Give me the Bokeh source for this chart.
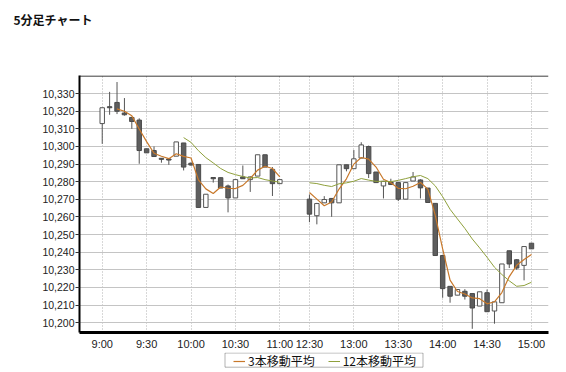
from bokeh.plotting import figure
from bokeh.layouts import column
from bokeh.models import (FixedTicker, NumeralTickFormatter, Span, BoxAnnotation, Title,
                          Legend, LegendItem, ColumnDataSource)
from bokeh.embed import file_html
from bokeh.resources import INLINE
import numpy as np
import pandas as pd

title_text = "5分足チャート"
legend_labels = ["3本移動平均", "12本移動平均"]

times = ["9:00", "9:05", "9:10", "9:15", "9:20", "9:25", "9:30", "9:35", "9:40", "9:45",
         "9:50", "9:55", "10:00", "10:05", "10:10", "10:15", "10:20", "10:25", "10:30", "10:35",
         "10:40", "10:45", "10:50", "10:55", "11:00",
         "12:30", "12:35", "12:40", "12:45", "12:50", "12:55", "13:00", "13:05", "13:10", "13:15",
         "13:20", "13:25", "13:30", "13:35", "13:40", "13:45", "13:50", "13:55", "14:00", "14:05",
         "14:10", "14:15", "14:20", "14:25", "14:30", "14:35", "14:40", "14:45", "14:50", "14:55",
         "15:00"]

open_ = [10313, 10322.6, 10325, 10319, 10316.5, 10315, 10298.7, 10297.7, 10293.3, 10292.9,
         10294.5, 10302, 10290.5, 10289.8, 10265.4, 10282.4, 10282.3, 10277.6, 10270.8, 10282.7,
         10281.2, 10283.2, 10295.3, 10287, 10278.9,
         10270.1, 10260.7, 10268, 10270.5, 10268, 10289.6, 10287.4, 10293.4, 10300, 10285.5,
         10277.6, 10279.8, 10279.5, 10270.1, 10280.4, 10281, 10276.4, 10267.7, 10238.1, 10220.6,
         10215.6, 10217.8, 10216.5, 10209.4, 10217, 10206.6, 10211.3, 10240.8, 10235.7, 10232.5,
         10245.1]
high = [10322, 10331, 10336.6, 10327.5, 10316.5, 10316, 10298.7, 10300, 10293.3, 10292.9,
        10302.6, 10302, 10291, 10289.8, 10272.9, 10282.4, 10282.3, 10278.4, 10281.5, 10289.2,
        10283, 10295.3, 10295.3, 10288.3, 10281.2,
        10272.7, 10268, 10271.8, 10270.5, 10289.6, 10289.6, 10298, 10302.4, 10300.5, 10285.5,
        10280.5, 10281.7, 10279.5, 10279.5, 10285.5, 10281.4, 10276.4, 10267.7, 10238.1, 10220.6,
        10218.8, 10219, 10216.5, 10217.5, 10218.8, 10211.8, 10233.3, 10240.8, 10236, 10243.2,
        10245.1]
low = [10301.5, 10318, 10318.4, 10317.5, 10310, 10290.2, 10296.4, 10294.3, 10290.8, 10289.6,
       10294.5, 10286.4, 10289, 10265.4, 10265.4, 10279.5, 10276.4, 10262.6, 10270.8, 10281.7,
       10274.2, 10283.2, 10288.3, 10271.9, 10278.9,
       10257, 10255.8, 10268, 10260.1, 10268, 10285.9, 10287.4, 10293.4, 10282.1, 10279.5,
       10270.5, 10278.4, 10269, 10270.1, 10280.4, 10270.5, 10268.2, 10238.1, 10214.1, 10211.3,
       10215.6, 10213.1, 10196.5, 10209.4, 10206.2, 10199.4, 10211.3, 10231, 10230, 10224,
       10241.9]
close = [10322, 10322, 10320, 10318, 10314.2, 10297.7, 10296.4, 10294.3, 10292.7, 10292.3,
         10302.6, 10288.3, 10289.5, 10265.4, 10272.9, 10281.7, 10276.4, 10270.8, 10281.2, 10281.7,
         10282.7, 10295.3, 10288.3, 10278.9, 10281.2,
         10261.6, 10267.6, 10269.9, 10268, 10289.6, 10287.4, 10293, 10300.9, 10284.6, 10279.5,
         10280.2, 10278.4, 10270.1, 10279.5, 10282.7, 10276.5, 10268.2, 10238.1, 10219.3, 10215,
         10218.8, 10215, 10208.3, 10217.5, 10206.2, 10211.8, 10233.3, 10233.3, 10231, 10243.2,
         10241.9]

tick_labels = ["9:00", "9:30", "10:00", "10:30", "11:00", "12:30", "13:00", "13:30", "14:00", "14:30", "15:00"]
y_ticks = list(range(10200, 10331, 10))

MA3_COLOR = "#C8782A"
MA12_COLOR = "#8FA03C"


def slot(t):
    h, m = map(int, t.split(":"))
    mins = h * 60 + m
    if mins <= 660:
        return (mins - 540) / 5
    return 28 + (mins - 750) / 5


xs = [slot(t) for t in times]
up = [c >= o for o, c in zip(open_, close)]
top = [max(o, c) for o, c in zip(open_, close)]
bot = [min(o, c) for o, c in zip(open_, close)]

df = pd.DataFrame(dict(x=xs, o=open_, h=high, l=low, c=close, top=top, bot=bot, up=up))
ma3 = df["c"].rolling(3).mean()
ma12 = df["c"].rolling(12).mean()

# break the lines across the lunch gap
n_am = sum(1 for t in times if slot(t) <= 24)
lx = xs[:n_am] + [np.nan] + xs[n_am:]
l3 = list(ma3[:n_am]) + [np.nan] + list(ma3[n_am:])
l12 = list(ma12[:n_am]) + [np.nan] + list(ma12[n_am:])

BL, BR = 79, 18
p = figure(width=566, height=352, x_range=(-3.07, 60.3), y_range=(10194.4, 10340.3),
           output_backend="svg", toolbar_location=None,
           min_border_left=BL, min_border_right=BR, min_border_top=75, min_border_bottom=19,
           background_fill_color="white", border_fill_color="white")
p.outline_line_color = None
p.title.text = ""

# title (a spacer title keeps it near the top edge)
p.add_layout(Title(text=" ", text_font_size="1px", standoff=33), "above")
p.add_layout(Title(text=title_text, align="left", offset=-66, standoff=20, vertical_align="top",
                   text_font="Noto Sans CJK JP", text_font_size="12px", text_font_style="bold",
                   text_color="#111111"), "above")

# grids
p.ygrid.ticker = FixedTicker(ticks=y_ticks)
p.ygrid.grid_line_color = "#c4c4c4"
p.ygrid.grid_line_width = 1
tick_pos = [0, 6, 12, 18, 24, 28, 34, 40, 46, 52, 58]
p.xgrid.ticker = FixedTicker(ticks=tick_pos)
p.xgrid.grid_line_color = "#b0b0b0"
p.xgrid.grid_line_dash = "1 2"

# axes
ya = p.yaxis[0]
ya.ticker = FixedTicker(ticks=y_ticks)
ya.formatter = NumeralTickFormatter(format="0,0")
ya.axis_line_color = "black"
ya.axis_line_width = 2
ya.major_tick_out = 4
ya.major_tick_in = 0
ya.major_tick_line_color = "#333333"
ya.minor_tick_line_color = None
ya.major_label_standoff = 1
ya.major_label_text_font = "Liberation Sans"
ya.major_label_text_font_size = "10.5px"
ya.major_label_text_color = "#222222"

xa = p.xaxis[0]
xa.ticker = FixedTicker(ticks=tick_pos)
xa.major_label_overrides = {k: v for k, v in zip(tick_pos, tick_labels)}
xa.axis_line_color = "black"
xa.axis_line_width = 3
xa.major_tick_out = 0
xa.major_tick_in = 0
xa.major_tick_line_color = None
xa.minor_tick_out = 0
xa.minor_tick_line_color = None
xa.major_label_standoff = 5
xa.major_label_text_font = "Liberation Sans"
xa.major_label_text_font_size = "11px"
xa.major_label_text_color = "#222222"

# top border of the frame
p.add_layout(Span(location=10340.0, dimension="width", line_color="black", line_width=1))

# candles
p.segment(x0="x", y0="l", x1="x", y1="h", source=ColumnDataSource(df), line_color="#555555", line_width=1)
dn = df[~df["up"]]
uu = df[df["up"]]
p.vbar(x="x", top="top", bottom="bot", width=0.6, source=ColumnDataSource(dn),
       fill_color="#5e5e5e", line_color="#4a4a4a", line_width=1)
p.vbar(x="x", top="top", bottom="bot", width=0.6, source=ColumnDataSource(uu),
       fill_color="white", line_color="#555555", line_width=1)

# moving averages
p.line(lx, l3, line_color=MA3_COLOR, line_width=1.2)
p.line(lx, l12, line_color=MA12_COLOR, line_width=1)

# legend strip under the chart (its x data units are page pixels)
lg = figure(width=566, height=20, x_range=(BL, 566 - BR), y_range=(0, 20),
            output_backend="svg", toolbar_location=None,
            x_axis_type=None, y_axis_type=None,
            min_border_left=BL, min_border_right=BR, min_border_top=0, min_border_bottom=0,
            background_fill_color="white", border_fill_color="white")
lg.outline_line_color = None
lg.grid.visible = False
g3 = lg.line(x=[-50, -40], y=[-50, -50], line_color=MA3_COLOR, line_width=1.2)
g12 = lg.line(x=[-50, -40], y=[-50, -50], line_color=MA12_COLOR, line_width=1)
lg.add_layout(BoxAnnotation(left=224.5, right=422.5, bottom=5.3, top=19.5,
                            fill_color=None, fill_alpha=0, line_color="black", line_width=1))
legend = Legend(items=[LegendItem(label=legend_labels[0], renderers=[g3]),
                       LegendItem(label=legend_labels[1], renderers=[g12])],
                orientation="horizontal", location=(233 - BL, 3),
                glyph_width=12, glyph_height=12, label_standoff=3, spacing=13,
                padding=0, margin=0, border_line_color=None, background_fill_alpha=0,
                label_text_font="Noto Sans CJK JP", label_text_font_size="12px",
                label_text_color="#111111")
lg.add_layout(legend, "center")

layout = column(p, lg, spacing=0)
open("out.html", "w").write(file_html(layout, INLINE))
